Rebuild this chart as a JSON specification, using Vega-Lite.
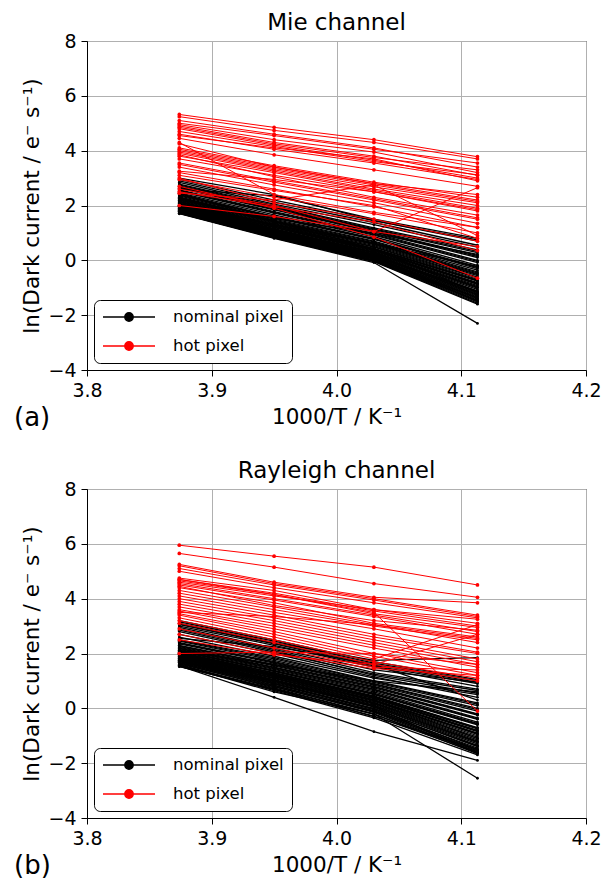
{
"$schema": "https://vega.github.io/schema/vega-lite/v6.json",
"padding": {"left": 13, "top": 11, "right": 10, "bottom": 0},
"spacing": 27,
"data": {"values": [
{"c":"M","g":"n","i":1,"x":3.874,"y":3.00},{"c":"M","g":"n","i":1,"x":3.95,"y":2.40},{"c":"M","g":"n","i":1,"x":4.03,"y":1.45},{"c":"M","g":"n","i":1,"x":4.113,"y":0.75},
{"c":"M","g":"n","i":2,"x":3.874,"y":2.95},{"c":"M","g":"n","i":2,"x":3.95,"y":2.20},{"c":"M","g":"n","i":2,"x":4.03,"y":1.45},{"c":"M","g":"n","i":2,"x":4.113,"y":0.70},
{"c":"M","g":"n","i":3,"x":3.874,"y":2.90},{"c":"M","g":"n","i":3,"x":3.95,"y":2.12},{"c":"M","g":"n","i":3,"x":4.03,"y":1.38},{"c":"M","g":"n","i":3,"x":4.113,"y":0.55},
{"c":"M","g":"n","i":4,"x":3.874,"y":2.84},{"c":"M","g":"n","i":4,"x":3.95,"y":2.05},{"c":"M","g":"n","i":4,"x":4.03,"y":1.30},{"c":"M","g":"n","i":4,"x":4.113,"y":0.48},
{"c":"M","g":"n","i":5,"x":3.874,"y":2.78},{"c":"M","g":"n","i":5,"x":3.95,"y":2.00},{"c":"M","g":"n","i":5,"x":4.03,"y":1.18},{"c":"M","g":"n","i":5,"x":4.113,"y":0.38},
{"c":"M","g":"n","i":6,"x":3.874,"y":2.72},{"c":"M","g":"n","i":6,"x":3.95,"y":1.93},{"c":"M","g":"n","i":6,"x":4.03,"y":1.12},{"c":"M","g":"n","i":6,"x":4.113,"y":0.28},
{"c":"M","g":"n","i":7,"x":3.874,"y":2.68},{"c":"M","g":"n","i":7,"x":3.95,"y":1.90},{"c":"M","g":"n","i":7,"x":4.03,"y":1.08},{"c":"M","g":"n","i":7,"x":4.113,"y":0.18},
{"c":"M","g":"n","i":8,"x":3.874,"y":2.63},{"c":"M","g":"n","i":8,"x":3.95,"y":1.84},{"c":"M","g":"n","i":8,"x":4.03,"y":1.04},{"c":"M","g":"n","i":8,"x":4.113,"y":0.10},
{"c":"M","g":"n","i":9,"x":3.874,"y":2.60},{"c":"M","g":"n","i":9,"x":3.95,"y":2.35},{"c":"M","g":"n","i":9,"x":4.03,"y":1.50},{"c":"M","g":"n","i":9,"x":4.113,"y":0.80},
{"c":"M","g":"n","i":10,"x":3.874,"y":2.57},{"c":"M","g":"n","i":10,"x":3.95,"y":1.78},{"c":"M","g":"n","i":10,"x":4.03,"y":0.98},{"c":"M","g":"n","i":10,"x":4.113,"y":0.00},
{"c":"M","g":"n","i":11,"x":3.874,"y":2.52},{"c":"M","g":"n","i":11,"x":3.95,"y":1.72},{"c":"M","g":"n","i":11,"x":4.03,"y":0.92},{"c":"M","g":"n","i":11,"x":4.113,"y":-0.08},
{"c":"M","g":"n","i":12,"x":3.874,"y":2.46},{"c":"M","g":"n","i":12,"x":3.95,"y":1.66},{"c":"M","g":"n","i":12,"x":4.03,"y":0.86},{"c":"M","g":"n","i":12,"x":4.113,"y":-0.18},
{"c":"M","g":"n","i":13,"x":3.874,"y":2.42},{"c":"M","g":"n","i":13,"x":3.95,"y":1.60},{"c":"M","g":"n","i":13,"x":4.03,"y":0.80},{"c":"M","g":"n","i":13,"x":4.113,"y":-0.24},
{"c":"M","g":"n","i":14,"x":3.874,"y":2.38},{"c":"M","g":"n","i":14,"x":3.95,"y":1.55},{"c":"M","g":"n","i":14,"x":4.03,"y":0.76},{"c":"M","g":"n","i":14,"x":4.113,"y":-0.30},
{"c":"M","g":"n","i":15,"x":3.874,"y":2.35},{"c":"M","g":"n","i":15,"x":3.95,"y":1.50},{"c":"M","g":"n","i":15,"x":4.03,"y":0.70},{"c":"M","g":"n","i":15,"x":4.113,"y":-0.36},
{"c":"M","g":"n","i":16,"x":3.874,"y":2.31},{"c":"M","g":"n","i":16,"x":3.95,"y":1.47},{"c":"M","g":"n","i":16,"x":4.03,"y":0.67},{"c":"M","g":"n","i":16,"x":4.113,"y":-0.42},
{"c":"M","g":"n","i":17,"x":3.874,"y":2.29},{"c":"M","g":"n","i":17,"x":3.95,"y":1.44},{"c":"M","g":"n","i":17,"x":4.03,"y":0.64},{"c":"M","g":"n","i":17,"x":4.113,"y":-0.46},
{"c":"M","g":"n","i":18,"x":3.874,"y":2.26},{"c":"M","g":"n","i":18,"x":3.95,"y":1.41},{"c":"M","g":"n","i":18,"x":4.03,"y":0.60},{"c":"M","g":"n","i":18,"x":4.113,"y":-0.52},
{"c":"M","g":"n","i":19,"x":3.874,"y":2.24},{"c":"M","g":"n","i":19,"x":3.95,"y":1.39},{"c":"M","g":"n","i":19,"x":4.03,"y":0.57},{"c":"M","g":"n","i":19,"x":4.113,"y":-0.56},
{"c":"M","g":"n","i":20,"x":3.874,"y":2.21},{"c":"M","g":"n","i":20,"x":3.95,"y":1.37},{"c":"M","g":"n","i":20,"x":4.03,"y":0.54},{"c":"M","g":"n","i":20,"x":4.113,"y":-0.61},
{"c":"M","g":"n","i":21,"x":3.874,"y":2.19},{"c":"M","g":"n","i":21,"x":3.95,"y":1.34},{"c":"M","g":"n","i":21,"x":4.03,"y":0.50},{"c":"M","g":"n","i":21,"x":4.113,"y":-0.64},
{"c":"M","g":"n","i":22,"x":3.874,"y":2.16},{"c":"M","g":"n","i":22,"x":3.95,"y":1.31},{"c":"M","g":"n","i":22,"x":4.03,"y":0.48},{"c":"M","g":"n","i":22,"x":4.113,"y":-0.69},
{"c":"M","g":"n","i":23,"x":3.874,"y":2.14},{"c":"M","g":"n","i":23,"x":3.95,"y":1.29},{"c":"M","g":"n","i":23,"x":4.03,"y":0.44},{"c":"M","g":"n","i":23,"x":4.113,"y":-0.72},
{"c":"M","g":"n","i":24,"x":3.874,"y":2.11},{"c":"M","g":"n","i":24,"x":3.95,"y":1.26},{"c":"M","g":"n","i":24,"x":4.03,"y":0.41},{"c":"M","g":"n","i":24,"x":4.113,"y":-0.76},
{"c":"M","g":"n","i":25,"x":3.874,"y":2.09},{"c":"M","g":"n","i":25,"x":3.95,"y":1.24},{"c":"M","g":"n","i":25,"x":4.03,"y":0.39},{"c":"M","g":"n","i":25,"x":4.113,"y":-0.81},
{"c":"M","g":"n","i":26,"x":3.874,"y":2.07},{"c":"M","g":"n","i":26,"x":3.95,"y":1.21},{"c":"M","g":"n","i":26,"x":4.03,"y":0.37},{"c":"M","g":"n","i":26,"x":4.113,"y":-0.84},
{"c":"M","g":"n","i":27,"x":3.874,"y":2.04},{"c":"M","g":"n","i":27,"x":3.95,"y":1.19},{"c":"M","g":"n","i":27,"x":4.03,"y":0.34},{"c":"M","g":"n","i":27,"x":4.113,"y":-0.88},
{"c":"M","g":"n","i":28,"x":3.874,"y":2.02},{"c":"M","g":"n","i":28,"x":3.95,"y":1.16},{"c":"M","g":"n","i":28,"x":4.03,"y":0.31},{"c":"M","g":"n","i":28,"x":4.113,"y":-0.92},
{"c":"M","g":"n","i":29,"x":3.874,"y":2.00},{"c":"M","g":"n","i":29,"x":3.95,"y":1.14},{"c":"M","g":"n","i":29,"x":4.03,"y":0.29},{"c":"M","g":"n","i":29,"x":4.113,"y":-0.96},
{"c":"M","g":"n","i":30,"x":3.874,"y":1.97},{"c":"M","g":"n","i":30,"x":3.95,"y":1.11},{"c":"M","g":"n","i":30,"x":4.03,"y":0.26},{"c":"M","g":"n","i":30,"x":4.113,"y":-1.01},
{"c":"M","g":"n","i":31,"x":3.874,"y":1.95},{"c":"M","g":"n","i":31,"x":3.95,"y":1.09},{"c":"M","g":"n","i":31,"x":4.03,"y":0.24},{"c":"M","g":"n","i":31,"x":4.113,"y":-1.06},
{"c":"M","g":"n","i":32,"x":3.874,"y":1.92},{"c":"M","g":"n","i":32,"x":3.95,"y":1.06},{"c":"M","g":"n","i":32,"x":4.03,"y":0.21},{"c":"M","g":"n","i":32,"x":4.113,"y":-1.11},
{"c":"M","g":"n","i":33,"x":3.874,"y":1.90},{"c":"M","g":"n","i":33,"x":3.95,"y":1.04},{"c":"M","g":"n","i":33,"x":4.03,"y":0.19},{"c":"M","g":"n","i":33,"x":4.113,"y":-1.16},
{"c":"M","g":"n","i":34,"x":3.874,"y":1.87},{"c":"M","g":"n","i":34,"x":3.95,"y":1.01},{"c":"M","g":"n","i":34,"x":4.03,"y":0.16},{"c":"M","g":"n","i":34,"x":4.113,"y":-1.21},
{"c":"M","g":"n","i":35,"x":3.874,"y":1.84},{"c":"M","g":"n","i":35,"x":3.95,"y":0.98},{"c":"M","g":"n","i":35,"x":4.03,"y":0.12},{"c":"M","g":"n","i":35,"x":4.113,"y":-1.28},
{"c":"M","g":"n","i":36,"x":3.874,"y":1.81},{"c":"M","g":"n","i":36,"x":3.95,"y":0.95},{"c":"M","g":"n","i":36,"x":4.03,"y":0.09},{"c":"M","g":"n","i":36,"x":4.113,"y":-1.34},
{"c":"M","g":"n","i":37,"x":3.874,"y":1.79},{"c":"M","g":"n","i":37,"x":3.95,"y":0.92},{"c":"M","g":"n","i":37,"x":4.03,"y":0.05},{"c":"M","g":"n","i":37,"x":4.113,"y":-1.39},
{"c":"M","g":"n","i":38,"x":3.874,"y":1.76},{"c":"M","g":"n","i":38,"x":3.95,"y":0.88},{"c":"M","g":"n","i":38,"x":4.03,"y":0.02},{"c":"M","g":"n","i":38,"x":4.113,"y":-1.45},
{"c":"M","g":"n","i":39,"x":3.874,"y":1.74},{"c":"M","g":"n","i":39,"x":3.95,"y":0.85},{"c":"M","g":"n","i":39,"x":4.03,"y":-0.01},{"c":"M","g":"n","i":39,"x":4.113,"y":-1.52},
{"c":"M","g":"n","i":40,"x":3.874,"y":1.72},{"c":"M","g":"n","i":40,"x":3.95,"y":0.82},{"c":"M","g":"n","i":40,"x":4.03,"y":-0.05},{"c":"M","g":"n","i":40,"x":4.113,"y":-1.60},
{"c":"M","g":"n","i":41,"x":3.874,"y":1.70},{"c":"M","g":"n","i":41,"x":3.95,"y":0.80},{"c":"M","g":"n","i":41,"x":4.03,"y":-0.08},{"c":"M","g":"n","i":41,"x":4.113,"y":-2.30},
{"c":"M","g":"n","i":42,"x":3.874,"y":2.20},{"c":"M","g":"n","i":42,"x":3.95,"y":1.52},{"c":"M","g":"n","i":42,"x":4.03,"y":0.98},{"c":"M","g":"n","i":42,"x":4.113,"y":0.22},
{"c":"M","g":"n","i":43,"x":3.874,"y":1.96},{"c":"M","g":"n","i":43,"x":3.95,"y":1.30},{"c":"M","g":"n","i":43,"x":4.03,"y":0.62},{"c":"M","g":"n","i":43,"x":4.113,"y":-0.22},
{"c":"M","g":"n","i":44,"x":3.874,"y":2.45},{"c":"M","g":"n","i":44,"x":3.95,"y":1.42},{"c":"M","g":"n","i":44,"x":4.03,"y":0.42},{"c":"M","g":"n","i":44,"x":4.113,"y":-1.18},
{"c":"M","g":"n","i":45,"x":3.874,"y":1.71},{"c":"M","g":"n","i":45,"x":3.95,"y":0.84},{"c":"M","g":"n","i":45,"x":4.03,"y":-0.03},{"c":"M","g":"n","i":45,"x":4.113,"y":-1.56},
{"c":"M","g":"n","i":46,"x":3.874,"y":1.73},{"c":"M","g":"n","i":46,"x":3.95,"y":0.86},{"c":"M","g":"n","i":46,"x":4.03,"y":0.00},{"c":"M","g":"n","i":46,"x":4.113,"y":-1.48},
{"c":"M","g":"n","i":47,"x":3.874,"y":1.77},{"c":"M","g":"n","i":47,"x":3.95,"y":0.90},{"c":"M","g":"n","i":47,"x":4.03,"y":0.04},{"c":"M","g":"n","i":47,"x":4.113,"y":-1.42},
{"c":"M","g":"n","i":48,"x":3.874,"y":1.80},{"c":"M","g":"n","i":48,"x":3.95,"y":0.93},{"c":"M","g":"n","i":48,"x":4.03,"y":0.07},{"c":"M","g":"n","i":48,"x":4.113,"y":-1.37},
{"c":"M","g":"n","i":49,"x":3.874,"y":1.83},{"c":"M","g":"n","i":49,"x":3.95,"y":0.97},{"c":"M","g":"n","i":49,"x":4.03,"y":0.11},{"c":"M","g":"n","i":49,"x":4.113,"y":-1.31},
{"c":"M","g":"n","i":50,"x":3.874,"y":1.86},{"c":"M","g":"n","i":50,"x":3.95,"y":1.00},{"c":"M","g":"n","i":50,"x":4.03,"y":0.14},{"c":"M","g":"n","i":50,"x":4.113,"y":-1.24},
{"c":"M","g":"n","i":51,"x":3.874,"y":1.89},{"c":"M","g":"n","i":51,"x":3.95,"y":1.03},{"c":"M","g":"n","i":51,"x":4.03,"y":0.18},{"c":"M","g":"n","i":51,"x":4.113,"y":-1.18},
{"c":"M","g":"n","i":52,"x":3.874,"y":1.93},{"c":"M","g":"n","i":52,"x":3.95,"y":1.07},{"c":"M","g":"n","i":52,"x":4.03,"y":0.22},{"c":"M","g":"n","i":52,"x":4.113,"y":-1.13},
{"c":"M","g":"n","i":53,"x":3.874,"y":1.99},{"c":"M","g":"n","i":53,"x":3.95,"y":1.13},{"c":"M","g":"n","i":53,"x":4.03,"y":0.28},{"c":"M","g":"n","i":53,"x":4.113,"y":-0.99},
{"c":"M","g":"n","i":54,"x":3.874,"y":2.06},{"c":"M","g":"n","i":54,"x":3.95,"y":1.20},{"c":"M","g":"n","i":54,"x":4.03,"y":0.36},{"c":"M","g":"n","i":54,"x":4.113,"y":-0.86},
{"c":"M","g":"n","i":55,"x":3.874,"y":2.13},{"c":"M","g":"n","i":55,"x":3.95,"y":1.28},{"c":"M","g":"n","i":55,"x":4.03,"y":0.43},{"c":"M","g":"n","i":55,"x":4.113,"y":-0.74},
{"c":"M","g":"n","i":56,"x":3.874,"y":2.28},{"c":"M","g":"n","i":56,"x":3.95,"y":1.43},{"c":"M","g":"n","i":56,"x":4.03,"y":0.62},{"c":"M","g":"n","i":56,"x":4.113,"y":-0.49},
{"c":"M","g":"n","i":57,"x":3.874,"y":2.40},{"c":"M","g":"n","i":57,"x":3.95,"y":1.58},{"c":"M","g":"n","i":57,"x":4.03,"y":0.78},{"c":"M","g":"n","i":57,"x":4.113,"y":-0.27},
{"c":"M","g":"n","i":58,"x":3.874,"y":2.55},{"c":"M","g":"n","i":58,"x":3.95,"y":1.75},{"c":"M","g":"n","i":58,"x":4.03,"y":0.95},{"c":"M","g":"n","i":58,"x":4.113,"y":-0.04},
{"c":"M","g":"n","i":59,"x":3.874,"y":2.66},{"c":"M","g":"n","i":59,"x":3.95,"y":1.87},{"c":"M","g":"n","i":59,"x":4.03,"y":1.06},{"c":"M","g":"n","i":59,"x":4.113,"y":0.14},
{"c":"M","g":"n","i":60,"x":3.874,"y":2.75},{"c":"M","g":"n","i":60,"x":3.95,"y":1.96},{"c":"M","g":"n","i":60,"x":4.03,"y":1.15},{"c":"M","g":"n","i":60,"x":4.113,"y":0.33},
{"c":"M","g":"n","i":61,"x":3.874,"y":1.78},{"c":"M","g":"n","i":61,"x":3.95,"y":0.95},{"c":"M","g":"n","i":61,"x":4.03,"y":0.12},{"c":"M","g":"n","i":61,"x":4.113,"y":-1.50},
{"c":"M","g":"n","i":62,"x":3.874,"y":2.01},{"c":"M","g":"n","i":62,"x":3.95,"y":1.10},{"c":"M","g":"n","i":62,"x":4.03,"y":0.20},{"c":"M","g":"n","i":62,"x":4.113,"y":-1.25},
{"c":"M","g":"h","i":101,"x":3.874,"y":5.32},{"c":"M","g":"h","i":101,"x":3.95,"y":4.85},{"c":"M","g":"h","i":101,"x":4.03,"y":4.40},{"c":"M","g":"h","i":101,"x":4.113,"y":3.78},
{"c":"M","g":"h","i":102,"x":3.874,"y":5.24},{"c":"M","g":"h","i":102,"x":3.95,"y":4.74},{"c":"M","g":"h","i":102,"x":4.03,"y":4.30},{"c":"M","g":"h","i":102,"x":4.113,"y":3.70},
{"c":"M","g":"h","i":103,"x":3.874,"y":5.10},{"c":"M","g":"h","i":103,"x":3.95,"y":4.60},{"c":"M","g":"h","i":103,"x":4.03,"y":4.10},{"c":"M","g":"h","i":103,"x":4.113,"y":3.40},
{"c":"M","g":"h","i":104,"x":3.874,"y":5.00},{"c":"M","g":"h","i":104,"x":3.95,"y":4.55},{"c":"M","g":"h","i":104,"x":4.03,"y":4.05},{"c":"M","g":"h","i":104,"x":4.113,"y":3.55},
{"c":"M","g":"h","i":105,"x":3.874,"y":4.95},{"c":"M","g":"h","i":105,"x":3.95,"y":4.40},{"c":"M","g":"h","i":105,"x":4.03,"y":3.95},{"c":"M","g":"h","i":105,"x":4.113,"y":3.20},
{"c":"M","g":"h","i":106,"x":3.874,"y":4.90},{"c":"M","g":"h","i":106,"x":3.95,"y":4.30},{"c":"M","g":"h","i":106,"x":4.03,"y":3.80},{"c":"M","g":"h","i":106,"x":4.113,"y":3.10},
{"c":"M","g":"h","i":107,"x":3.874,"y":4.85},{"c":"M","g":"h","i":107,"x":3.95,"y":4.25},{"c":"M","g":"h","i":107,"x":4.03,"y":3.75},{"c":"M","g":"h","i":107,"x":4.113,"y":3.30},
{"c":"M","g":"h","i":108,"x":3.874,"y":4.80},{"c":"M","g":"h","i":108,"x":3.95,"y":4.20},{"c":"M","g":"h","i":108,"x":4.03,"y":3.65},{"c":"M","g":"h","i":108,"x":4.113,"y":3.00},
{"c":"M","g":"h","i":109,"x":3.874,"y":4.70},{"c":"M","g":"h","i":109,"x":3.95,"y":4.15},{"c":"M","g":"h","i":109,"x":4.03,"y":3.60},{"c":"M","g":"h","i":109,"x":4.113,"y":3.12},
{"c":"M","g":"h","i":110,"x":3.874,"y":4.55},{"c":"M","g":"h","i":110,"x":3.95,"y":4.10},{"c":"M","g":"h","i":110,"x":4.03,"y":3.70},{"c":"M","g":"h","i":110,"x":4.113,"y":2.90},
{"c":"M","g":"h","i":111,"x":3.874,"y":4.45},{"c":"M","g":"h","i":111,"x":3.95,"y":3.85},{"c":"M","g":"h","i":111,"x":4.03,"y":3.30},{"c":"M","g":"h","i":111,"x":4.113,"y":2.70},
{"c":"M","g":"h","i":112,"x":3.874,"y":4.30},{"c":"M","g":"h","i":112,"x":3.95,"y":2.40},{"c":"M","g":"h","i":112,"x":4.03,"y":1.75},{"c":"M","g":"h","i":112,"x":4.113,"y":1.20},
{"c":"M","g":"h","i":113,"x":3.874,"y":4.10},{"c":"M","g":"h","i":113,"x":3.95,"y":3.45},{"c":"M","g":"h","i":113,"x":4.03,"y":2.85},{"c":"M","g":"h","i":113,"x":4.113,"y":2.30},
{"c":"M","g":"h","i":114,"x":3.874,"y":4.05},{"c":"M","g":"h","i":114,"x":3.95,"y":3.40},{"c":"M","g":"h","i":114,"x":4.03,"y":2.80},{"c":"M","g":"h","i":114,"x":4.113,"y":2.20},
{"c":"M","g":"h","i":115,"x":3.874,"y":4.00},{"c":"M","g":"h","i":115,"x":3.95,"y":3.35},{"c":"M","g":"h","i":115,"x":4.03,"y":2.75},{"c":"M","g":"h","i":115,"x":4.113,"y":2.15},
{"c":"M","g":"h","i":116,"x":3.874,"y":3.95},{"c":"M","g":"h","i":116,"x":3.95,"y":3.30},{"c":"M","g":"h","i":116,"x":4.03,"y":2.68},{"c":"M","g":"h","i":116,"x":4.113,"y":2.10},
{"c":"M","g":"h","i":117,"x":3.874,"y":3.90},{"c":"M","g":"h","i":117,"x":3.95,"y":3.25},{"c":"M","g":"h","i":117,"x":4.03,"y":2.60},{"c":"M","g":"h","i":117,"x":4.113,"y":2.00},
{"c":"M","g":"h","i":118,"x":3.874,"y":3.80},{"c":"M","g":"h","i":118,"x":3.95,"y":3.20},{"c":"M","g":"h","i":118,"x":4.03,"y":2.55},{"c":"M","g":"h","i":118,"x":4.113,"y":1.90},
{"c":"M","g":"h","i":119,"x":3.874,"y":3.70},{"c":"M","g":"h","i":119,"x":3.95,"y":3.10},{"c":"M","g":"h","i":119,"x":4.03,"y":2.50},{"c":"M","g":"h","i":119,"x":4.113,"y":1.80},
{"c":"M","g":"h","i":120,"x":3.874,"y":3.55},{"c":"M","g":"h","i":120,"x":3.95,"y":2.90},{"c":"M","g":"h","i":120,"x":4.03,"y":2.25},{"c":"M","g":"h","i":120,"x":4.113,"y":1.55},
{"c":"M","g":"h","i":121,"x":3.874,"y":3.50},{"c":"M","g":"h","i":121,"x":3.95,"y":2.85},{"c":"M","g":"h","i":121,"x":4.03,"y":2.20},{"c":"M","g":"h","i":121,"x":4.113,"y":1.50},
{"c":"M","g":"h","i":122,"x":3.874,"y":3.40},{"c":"M","g":"h","i":122,"x":3.95,"y":2.75},{"c":"M","g":"h","i":122,"x":4.03,"y":2.10},{"c":"M","g":"h","i":122,"x":4.113,"y":1.35},
{"c":"M","g":"h","i":123,"x":3.874,"y":3.20},{"c":"M","g":"h","i":123,"x":3.95,"y":2.60},{"c":"M","g":"h","i":123,"x":4.03,"y":1.95},{"c":"M","g":"h","i":123,"x":4.113,"y":1.20},
{"c":"M","g":"h","i":124,"x":3.874,"y":3.10},{"c":"M","g":"h","i":124,"x":3.95,"y":2.55},{"c":"M","g":"h","i":124,"x":4.03,"y":2.00},{"c":"M","g":"h","i":124,"x":4.113,"y":0.80},
{"c":"M","g":"h","i":125,"x":3.874,"y":3.00},{"c":"M","g":"h","i":125,"x":3.95,"y":2.10},{"c":"M","g":"h","i":125,"x":4.03,"y":1.50},{"c":"M","g":"h","i":125,"x":4.113,"y":0.70},
{"c":"M","g":"h","i":126,"x":3.874,"y":2.95},{"c":"M","g":"h","i":126,"x":3.95,"y":2.30},{"c":"M","g":"h","i":126,"x":4.03,"y":1.70},{"c":"M","g":"h","i":126,"x":4.113,"y":1.00},
{"c":"M","g":"h","i":127,"x":3.874,"y":2.60},{"c":"M","g":"h","i":127,"x":3.95,"y":2.00},{"c":"M","g":"h","i":127,"x":4.03,"y":1.05},{"c":"M","g":"h","i":127,"x":4.113,"y":2.65},
{"c":"M","g":"h","i":128,"x":3.874,"y":2.50},{"c":"M","g":"h","i":128,"x":3.95,"y":1.95},{"c":"M","g":"h","i":128,"x":4.03,"y":1.40},{"c":"M","g":"h","i":128,"x":4.113,"y":0.35},
{"c":"M","g":"h","i":129,"x":3.874,"y":2.45},{"c":"M","g":"h","i":129,"x":3.95,"y":2.20},{"c":"M","g":"h","i":129,"x":4.03,"y":2.75},{"c":"M","g":"h","i":129,"x":4.113,"y":0.90},
{"c":"M","g":"h","i":130,"x":3.874,"y":2.00},{"c":"M","g":"h","i":130,"x":3.95,"y":1.60},{"c":"M","g":"h","i":130,"x":4.03,"y":1.05},{"c":"M","g":"h","i":130,"x":4.113,"y":0.50},
{"c":"M","g":"h","i":131,"x":3.874,"y":4.25},{"c":"M","g":"h","i":131,"x":3.95,"y":3.40},{"c":"M","g":"h","i":131,"x":4.03,"y":2.80},{"c":"M","g":"h","i":131,"x":4.113,"y":2.40},
{"c":"M","g":"h","i":132,"x":3.874,"y":3.85},{"c":"M","g":"h","i":132,"x":3.95,"y":3.05},{"c":"M","g":"h","i":132,"x":4.03,"y":2.30},{"c":"M","g":"h","i":132,"x":4.113,"y":1.65},
{"c":"M","g":"h","i":133,"x":3.874,"y":4.60},{"c":"M","g":"h","i":133,"x":3.95,"y":4.05},{"c":"M","g":"h","i":133,"x":4.03,"y":3.55},{"c":"M","g":"h","i":133,"x":4.113,"y":2.95},
{"c":"M","g":"h","i":134,"x":3.874,"y":3.25},{"c":"M","g":"h","i":134,"x":3.95,"y":2.95},{"c":"M","g":"h","i":134,"x":4.03,"y":2.50},{"c":"M","g":"h","i":134,"x":4.113,"y":1.85},
{"c":"M","g":"h","i":135,"x":3.874,"y":2.70},{"c":"M","g":"h","i":135,"x":3.95,"y":1.90},{"c":"M","g":"h","i":135,"x":4.03,"y":0.85},{"c":"M","g":"h","i":135,"x":4.113,"y":-0.65},
{"c":"R","g":"n","i":201,"x":3.874,"y":3.20},{"c":"R","g":"n","i":201,"x":3.95,"y":2.50},{"c":"R","g":"n","i":201,"x":4.03,"y":1.70},{"c":"R","g":"n","i":201,"x":4.113,"y":1.05},
{"c":"R","g":"n","i":202,"x":3.874,"y":3.15},{"c":"R","g":"n","i":202,"x":3.95,"y":2.45},{"c":"R","g":"n","i":202,"x":4.03,"y":1.65},{"c":"R","g":"n","i":202,"x":4.113,"y":1.00},
{"c":"R","g":"n","i":203,"x":3.874,"y":3.10},{"c":"R","g":"n","i":203,"x":3.95,"y":2.40},{"c":"R","g":"n","i":203,"x":4.03,"y":1.75},{"c":"R","g":"n","i":203,"x":4.113,"y":1.85},
{"c":"R","g":"n","i":204,"x":3.874,"y":3.05},{"c":"R","g":"n","i":204,"x":3.95,"y":2.35},{"c":"R","g":"n","i":204,"x":4.03,"y":1.55},{"c":"R","g":"n","i":204,"x":4.113,"y":0.90},
{"c":"R","g":"n","i":205,"x":3.874,"y":3.00},{"c":"R","g":"n","i":205,"x":3.95,"y":2.30},{"c":"R","g":"n","i":205,"x":4.03,"y":1.50},{"c":"R","g":"n","i":205,"x":4.113,"y":0.80},
{"c":"R","g":"n","i":206,"x":3.874,"y":2.95},{"c":"R","g":"n","i":206,"x":3.95,"y":2.20},{"c":"R","g":"n","i":206,"x":4.03,"y":1.40},{"c":"R","g":"n","i":206,"x":4.113,"y":0.95},
{"c":"R","g":"n","i":207,"x":3.874,"y":2.90},{"c":"R","g":"n","i":207,"x":3.95,"y":2.15},{"c":"R","g":"n","i":207,"x":4.03,"y":1.30},{"c":"R","g":"n","i":207,"x":4.113,"y":0.70},
{"c":"R","g":"n","i":208,"x":3.874,"y":2.85},{"c":"R","g":"n","i":208,"x":3.95,"y":2.10},{"c":"R","g":"n","i":208,"x":4.03,"y":1.20},{"c":"R","g":"n","i":208,"x":4.113,"y":0.55},
{"c":"R","g":"n","i":209,"x":3.874,"y":2.70},{"c":"R","g":"n","i":209,"x":3.95,"y":2.00},{"c":"R","g":"n","i":209,"x":4.03,"y":1.15},{"c":"R","g":"n","i":209,"x":4.113,"y":0.40},
{"c":"R","g":"n","i":210,"x":3.874,"y":2.60},{"c":"R","g":"n","i":210,"x":3.95,"y":1.90},{"c":"R","g":"n","i":210,"x":4.03,"y":1.10},{"c":"R","g":"n","i":210,"x":4.113,"y":0.50},
{"c":"R","g":"n","i":211,"x":3.874,"y":2.50},{"c":"R","g":"n","i":211,"x":3.95,"y":1.85},{"c":"R","g":"n","i":211,"x":4.03,"y":1.00},{"c":"R","g":"n","i":211,"x":4.113,"y":0.20},
{"c":"R","g":"n","i":212,"x":3.874,"y":2.45},{"c":"R","g":"n","i":212,"x":3.95,"y":1.75},{"c":"R","g":"n","i":212,"x":4.03,"y":0.95},{"c":"R","g":"n","i":212,"x":4.113,"y":0.10},
{"c":"R","g":"n","i":213,"x":3.874,"y":2.40},{"c":"R","g":"n","i":213,"x":3.95,"y":1.70},{"c":"R","g":"n","i":213,"x":4.03,"y":0.90},{"c":"R","g":"n","i":213,"x":4.113,"y":0.00},
{"c":"R","g":"n","i":214,"x":3.874,"y":2.35},{"c":"R","g":"n","i":214,"x":3.95,"y":1.65},{"c":"R","g":"n","i":214,"x":4.03,"y":0.85},{"c":"R","g":"n","i":214,"x":4.113,"y":-0.10},
{"c":"R","g":"n","i":215,"x":3.874,"y":2.30},{"c":"R","g":"n","i":215,"x":3.95,"y":1.60},{"c":"R","g":"n","i":215,"x":4.03,"y":0.80},{"c":"R","g":"n","i":215,"x":4.113,"y":-0.20},
{"c":"R","g":"n","i":216,"x":3.874,"y":2.25},{"c":"R","g":"n","i":216,"x":3.95,"y":1.55},{"c":"R","g":"n","i":216,"x":4.03,"y":0.75},{"c":"R","g":"n","i":216,"x":4.113,"y":-0.25},
{"c":"R","g":"n","i":217,"x":3.874,"y":2.22},{"c":"R","g":"n","i":217,"x":3.95,"y":1.50},{"c":"R","g":"n","i":217,"x":4.03,"y":0.70},{"c":"R","g":"n","i":217,"x":4.113,"y":-0.35},
{"c":"R","g":"n","i":218,"x":3.874,"y":2.18},{"c":"R","g":"n","i":218,"x":3.95,"y":1.45},{"c":"R","g":"n","i":218,"x":4.03,"y":0.65},{"c":"R","g":"n","i":218,"x":4.113,"y":-0.40},
{"c":"R","g":"n","i":219,"x":3.874,"y":2.15},{"c":"R","g":"n","i":219,"x":3.95,"y":1.42},{"c":"R","g":"n","i":219,"x":4.03,"y":0.60},{"c":"R","g":"n","i":219,"x":4.113,"y":-0.50},
{"c":"R","g":"n","i":220,"x":3.874,"y":2.12},{"c":"R","g":"n","i":220,"x":3.95,"y":1.38},{"c":"R","g":"n","i":220,"x":4.03,"y":0.55},{"c":"R","g":"n","i":220,"x":4.113,"y":-0.55},
{"c":"R","g":"n","i":221,"x":3.874,"y":2.08},{"c":"R","g":"n","i":221,"x":3.95,"y":1.35},{"c":"R","g":"n","i":221,"x":4.03,"y":0.50},{"c":"R","g":"n","i":221,"x":4.113,"y":-0.60},
{"c":"R","g":"n","i":222,"x":3.874,"y":2.05},{"c":"R","g":"n","i":222,"x":3.95,"y":1.30},{"c":"R","g":"n","i":222,"x":4.03,"y":0.45},{"c":"R","g":"n","i":222,"x":4.113,"y":-0.70},
{"c":"R","g":"n","i":223,"x":3.874,"y":2.02},{"c":"R","g":"n","i":223,"x":3.95,"y":1.28},{"c":"R","g":"n","i":223,"x":4.03,"y":0.42},{"c":"R","g":"n","i":223,"x":4.113,"y":-0.75},
{"c":"R","g":"n","i":224,"x":3.874,"y":2.00},{"c":"R","g":"n","i":224,"x":3.95,"y":1.25},{"c":"R","g":"n","i":224,"x":4.03,"y":0.40},{"c":"R","g":"n","i":224,"x":4.113,"y":-0.80},
{"c":"R","g":"n","i":225,"x":3.874,"y":1.97},{"c":"R","g":"n","i":225,"x":3.95,"y":1.22},{"c":"R","g":"n","i":225,"x":4.03,"y":0.35},{"c":"R","g":"n","i":225,"x":4.113,"y":-0.85},
{"c":"R","g":"n","i":226,"x":3.874,"y":1.95},{"c":"R","g":"n","i":226,"x":3.95,"y":1.18},{"c":"R","g":"n","i":226,"x":4.03,"y":0.32},{"c":"R","g":"n","i":226,"x":4.113,"y":-0.90},
{"c":"R","g":"n","i":227,"x":3.874,"y":1.92},{"c":"R","g":"n","i":227,"x":3.95,"y":1.15},{"c":"R","g":"n","i":227,"x":4.03,"y":0.28},{"c":"R","g":"n","i":227,"x":4.113,"y":-0.95},
{"c":"R","g":"n","i":228,"x":3.874,"y":1.90},{"c":"R","g":"n","i":228,"x":3.95,"y":1.12},{"c":"R","g":"n","i":228,"x":4.03,"y":0.25},{"c":"R","g":"n","i":228,"x":4.113,"y":-1.00},
{"c":"R","g":"n","i":229,"x":3.874,"y":1.87},{"c":"R","g":"n","i":229,"x":3.95,"y":1.08},{"c":"R","g":"n","i":229,"x":4.03,"y":0.20},{"c":"R","g":"n","i":229,"x":4.113,"y":-1.10},
{"c":"R","g":"n","i":230,"x":3.874,"y":1.85},{"c":"R","g":"n","i":230,"x":3.95,"y":1.05},{"c":"R","g":"n","i":230,"x":4.03,"y":0.18},{"c":"R","g":"n","i":230,"x":4.113,"y":-1.15},
{"c":"R","g":"n","i":231,"x":3.874,"y":1.82},{"c":"R","g":"n","i":231,"x":3.95,"y":1.02},{"c":"R","g":"n","i":231,"x":4.03,"y":0.15},{"c":"R","g":"n","i":231,"x":4.113,"y":-1.20},
{"c":"R","g":"n","i":232,"x":3.874,"y":1.80},{"c":"R","g":"n","i":232,"x":3.95,"y":1.00},{"c":"R","g":"n","i":232,"x":4.03,"y":0.10},{"c":"R","g":"n","i":232,"x":4.113,"y":-1.25},
{"c":"R","g":"n","i":233,"x":3.874,"y":1.77},{"c":"R","g":"n","i":233,"x":3.95,"y":0.95},{"c":"R","g":"n","i":233,"x":4.03,"y":0.05},{"c":"R","g":"n","i":233,"x":4.113,"y":-1.35},
{"c":"R","g":"n","i":234,"x":3.874,"y":1.75},{"c":"R","g":"n","i":234,"x":3.95,"y":0.92},{"c":"R","g":"n","i":234,"x":4.03,"y":0.00},{"c":"R","g":"n","i":234,"x":4.113,"y":-1.40},
{"c":"R","g":"n","i":235,"x":3.874,"y":1.72},{"c":"R","g":"n","i":235,"x":3.95,"y":0.88},{"c":"R","g":"n","i":235,"x":4.03,"y":-0.05},{"c":"R","g":"n","i":235,"x":4.113,"y":-1.50},
{"c":"R","g":"n","i":236,"x":3.874,"y":1.70},{"c":"R","g":"n","i":236,"x":3.95,"y":0.85},{"c":"R","g":"n","i":236,"x":4.03,"y":-0.10},{"c":"R","g":"n","i":236,"x":4.113,"y":-1.55},
{"c":"R","g":"n","i":237,"x":3.874,"y":1.67},{"c":"R","g":"n","i":237,"x":3.95,"y":0.80},{"c":"R","g":"n","i":237,"x":4.03,"y":-0.15},{"c":"R","g":"n","i":237,"x":4.113,"y":-1.60},
{"c":"R","g":"n","i":238,"x":3.874,"y":1.65},{"c":"R","g":"n","i":238,"x":3.95,"y":0.75},{"c":"R","g":"n","i":238,"x":4.03,"y":-0.20},{"c":"R","g":"n","i":238,"x":4.113,"y":-1.65},
{"c":"R","g":"n","i":239,"x":3.874,"y":1.60},{"c":"R","g":"n","i":239,"x":3.95,"y":0.65},{"c":"R","g":"n","i":239,"x":4.03,"y":-0.35},{"c":"R","g":"n","i":239,"x":4.113,"y":-1.70},
{"c":"R","g":"n","i":240,"x":3.874,"y":1.58},{"c":"R","g":"n","i":240,"x":3.95,"y":0.60},{"c":"R","g":"n","i":240,"x":4.03,"y":-0.20},{"c":"R","g":"n","i":240,"x":4.113,"y":-2.55},
{"c":"R","g":"n","i":241,"x":3.874,"y":1.55},{"c":"R","g":"n","i":241,"x":3.95,"y":0.40},{"c":"R","g":"n","i":241,"x":4.03,"y":-0.85},{"c":"R","g":"n","i":241,"x":4.113,"y":-1.90},
{"c":"R","g":"n","i":242,"x":3.874,"y":1.52},{"c":"R","g":"n","i":242,"x":3.95,"y":0.70},{"c":"R","g":"n","i":242,"x":4.03,"y":-0.30},{"c":"R","g":"n","i":242,"x":4.113,"y":-1.50},
{"c":"R","g":"n","i":243,"x":3.874,"y":2.55},{"c":"R","g":"n","i":243,"x":3.95,"y":2.25},{"c":"R","g":"n","i":243,"x":4.03,"y":1.60},{"c":"R","g":"n","i":243,"x":4.113,"y":0.30},
{"c":"R","g":"n","i":244,"x":3.874,"y":2.10},{"c":"R","g":"n","i":244,"x":3.95,"y":1.60},{"c":"R","g":"n","i":244,"x":4.03,"y":1.00},{"c":"R","g":"n","i":244,"x":4.113,"y":0.60},
{"c":"R","g":"n","i":245,"x":3.874,"y":1.53},{"c":"R","g":"n","i":245,"x":3.95,"y":0.68},{"c":"R","g":"n","i":245,"x":4.03,"y":-0.28},{"c":"R","g":"n","i":245,"x":4.113,"y":-1.62},
{"c":"R","g":"n","i":246,"x":3.874,"y":1.57},{"c":"R","g":"n","i":246,"x":3.95,"y":0.72},{"c":"R","g":"n","i":246,"x":4.03,"y":-0.22},{"c":"R","g":"n","i":246,"x":4.113,"y":-1.58},
{"c":"R","g":"n","i":247,"x":3.874,"y":1.62},{"c":"R","g":"n","i":247,"x":3.95,"y":0.78},{"c":"R","g":"n","i":247,"x":4.03,"y":-0.12},{"c":"R","g":"n","i":247,"x":4.113,"y":-1.52},
{"c":"R","g":"n","i":248,"x":3.874,"y":1.68},{"c":"R","g":"n","i":248,"x":3.95,"y":0.83},{"c":"R","g":"n","i":248,"x":4.03,"y":-0.08},{"c":"R","g":"n","i":248,"x":4.113,"y":-1.45},
{"c":"R","g":"n","i":249,"x":3.874,"y":1.73},{"c":"R","g":"n","i":249,"x":3.95,"y":0.90},{"c":"R","g":"n","i":249,"x":4.03,"y":-0.02},{"c":"R","g":"n","i":249,"x":4.113,"y":-1.38},
{"c":"R","g":"n","i":250,"x":3.874,"y":1.78},{"c":"R","g":"n","i":250,"x":3.95,"y":0.97},{"c":"R","g":"n","i":250,"x":4.03,"y":0.07},{"c":"R","g":"n","i":250,"x":4.113,"y":-1.30},
{"c":"R","g":"n","i":251,"x":3.874,"y":1.83},{"c":"R","g":"n","i":251,"x":3.95,"y":1.03},{"c":"R","g":"n","i":251,"x":4.03,"y":0.12},{"c":"R","g":"n","i":251,"x":4.113,"y":-1.22},
{"c":"R","g":"n","i":252,"x":3.874,"y":1.88},{"c":"R","g":"n","i":252,"x":3.95,"y":1.10},{"c":"R","g":"n","i":252,"x":4.03,"y":0.22},{"c":"R","g":"n","i":252,"x":4.113,"y":-1.05},
{"c":"R","g":"n","i":253,"x":3.874,"y":1.93},{"c":"R","g":"n","i":253,"x":3.95,"y":1.17},{"c":"R","g":"n","i":253,"x":4.03,"y":0.30},{"c":"R","g":"n","i":253,"x":4.113,"y":-0.92},
{"c":"R","g":"n","i":254,"x":3.874,"y":1.98},{"c":"R","g":"n","i":254,"x":3.95,"y":1.23},{"c":"R","g":"n","i":254,"x":4.03,"y":0.37},{"c":"R","g":"n","i":254,"x":4.113,"y":-0.82},
{"c":"R","g":"n","i":255,"x":3.874,"y":2.03},{"c":"R","g":"n","i":255,"x":3.95,"y":1.29},{"c":"R","g":"n","i":255,"x":4.03,"y":0.43},{"c":"R","g":"n","i":255,"x":4.113,"y":-0.72},
{"c":"R","g":"n","i":256,"x":3.874,"y":2.10},{"c":"R","g":"n","i":256,"x":3.95,"y":1.36},{"c":"R","g":"n","i":256,"x":4.03,"y":0.52},{"c":"R","g":"n","i":256,"x":4.113,"y":-0.58},
{"c":"R","g":"n","i":257,"x":3.874,"y":2.20},{"c":"R","g":"n","i":257,"x":3.95,"y":1.48},{"c":"R","g":"n","i":257,"x":4.03,"y":0.68},{"c":"R","g":"n","i":257,"x":4.113,"y":-0.38},
{"c":"R","g":"n","i":258,"x":3.874,"y":2.28},{"c":"R","g":"n","i":258,"x":3.95,"y":1.58},{"c":"R","g":"n","i":258,"x":4.03,"y":0.78},{"c":"R","g":"n","i":258,"x":4.113,"y":-0.22},
{"c":"R","g":"n","i":259,"x":3.874,"y":2.38},{"c":"R","g":"n","i":259,"x":3.95,"y":1.68},{"c":"R","g":"n","i":259,"x":4.03,"y":0.88},{"c":"R","g":"n","i":259,"x":4.113,"y":-0.05},
{"c":"R","g":"n","i":260,"x":3.874,"y":2.48},{"c":"R","g":"n","i":260,"x":3.95,"y":1.80},{"c":"R","g":"n","i":260,"x":4.03,"y":0.98},{"c":"R","g":"n","i":260,"x":4.113,"y":0.15},
{"c":"R","g":"n","i":261,"x":3.874,"y":2.80},{"c":"R","g":"n","i":261,"x":3.95,"y":2.05},{"c":"R","g":"n","i":261,"x":4.03,"y":1.25},{"c":"R","g":"n","i":261,"x":4.113,"y":0.65},
{"c":"R","g":"n","i":262,"x":3.874,"y":3.08},{"c":"R","g":"n","i":262,"x":3.95,"y":2.38},{"c":"R","g":"n","i":262,"x":4.03,"y":1.60},{"c":"R","g":"n","i":262,"x":4.113,"y":0.95},
{"c":"R","g":"n","i":263,"x":3.874,"y":1.75},{"c":"R","g":"n","i":263,"x":3.95,"y":1.00},{"c":"R","g":"n","i":263,"x":4.03,"y":0.05},{"c":"R","g":"n","i":263,"x":4.113,"y":-1.65},
{"c":"R","g":"n","i":264,"x":3.874,"y":2.00},{"c":"R","g":"n","i":264,"x":3.95,"y":1.20},{"c":"R","g":"n","i":264,"x":4.03,"y":0.30},{"c":"R","g":"n","i":264,"x":4.113,"y":-1.10},
{"c":"R","g":"h","i":301,"x":3.874,"y":5.95},{"c":"R","g":"h","i":301,"x":3.95,"y":5.55},{"c":"R","g":"h","i":301,"x":4.03,"y":5.15},{"c":"R","g":"h","i":301,"x":4.113,"y":4.50},
{"c":"R","g":"h","i":302,"x":3.874,"y":5.65},{"c":"R","g":"h","i":302,"x":3.95,"y":5.15},{"c":"R","g":"h","i":302,"x":4.03,"y":4.55},{"c":"R","g":"h","i":302,"x":4.113,"y":4.05},
{"c":"R","g":"h","i":303,"x":3.874,"y":5.25},{"c":"R","g":"h","i":303,"x":3.95,"y":4.60},{"c":"R","g":"h","i":303,"x":4.03,"y":4.05},{"c":"R","g":"h","i":303,"x":4.113,"y":3.85},
{"c":"R","g":"h","i":304,"x":3.874,"y":5.20},{"c":"R","g":"h","i":304,"x":3.95,"y":4.55},{"c":"R","g":"h","i":304,"x":4.03,"y":4.00},{"c":"R","g":"h","i":304,"x":4.113,"y":3.40},
{"c":"R","g":"h","i":305,"x":3.874,"y":5.10},{"c":"R","g":"h","i":305,"x":3.95,"y":4.50},{"c":"R","g":"h","i":305,"x":4.03,"y":3.95},{"c":"R","g":"h","i":305,"x":4.113,"y":3.35},
{"c":"R","g":"h","i":306,"x":3.874,"y":5.00},{"c":"R","g":"h","i":306,"x":3.95,"y":4.40},{"c":"R","g":"h","i":306,"x":4.03,"y":3.85},{"c":"R","g":"h","i":306,"x":4.113,"y":3.30},
{"c":"R","g":"h","i":307,"x":3.874,"y":4.75},{"c":"R","g":"h","i":307,"x":3.95,"y":4.30},{"c":"R","g":"h","i":307,"x":4.03,"y":3.60},{"c":"R","g":"h","i":307,"x":4.113,"y":3.10},
{"c":"R","g":"h","i":308,"x":3.874,"y":4.70},{"c":"R","g":"h","i":308,"x":3.95,"y":4.20},{"c":"R","g":"h","i":308,"x":4.03,"y":3.55},{"c":"R","g":"h","i":308,"x":4.113,"y":3.00},
{"c":"R","g":"h","i":309,"x":3.874,"y":4.65},{"c":"R","g":"h","i":309,"x":3.95,"y":4.15},{"c":"R","g":"h","i":309,"x":4.03,"y":3.50},{"c":"R","g":"h","i":309,"x":4.113,"y":-0.10},
{"c":"R","g":"h","i":310,"x":3.874,"y":4.60},{"c":"R","g":"h","i":310,"x":3.95,"y":4.10},{"c":"R","g":"h","i":310,"x":4.03,"y":3.60},{"c":"R","g":"h","i":310,"x":4.113,"y":3.25},
{"c":"R","g":"h","i":311,"x":3.874,"y":4.55},{"c":"R","g":"h","i":311,"x":3.95,"y":4.00},{"c":"R","g":"h","i":311,"x":4.03,"y":3.40},{"c":"R","g":"h","i":311,"x":4.113,"y":2.80},
{"c":"R","g":"h","i":312,"x":3.874,"y":4.50},{"c":"R","g":"h","i":312,"x":3.95,"y":3.95},{"c":"R","g":"h","i":312,"x":4.03,"y":3.35},{"c":"R","g":"h","i":312,"x":4.113,"y":2.70},
{"c":"R","g":"h","i":313,"x":3.874,"y":4.40},{"c":"R","g":"h","i":313,"x":3.95,"y":3.85},{"c":"R","g":"h","i":313,"x":4.03,"y":3.10},{"c":"R","g":"h","i":313,"x":4.113,"y":2.60},
{"c":"R","g":"h","i":314,"x":3.874,"y":4.30},{"c":"R","g":"h","i":314,"x":3.95,"y":3.70},{"c":"R","g":"h","i":314,"x":4.03,"y":3.05},{"c":"R","g":"h","i":314,"x":4.113,"y":2.55},
{"c":"R","g":"h","i":315,"x":3.874,"y":4.20},{"c":"R","g":"h","i":315,"x":3.95,"y":3.60},{"c":"R","g":"h","i":315,"x":4.03,"y":3.00},{"c":"R","g":"h","i":315,"x":4.113,"y":2.50},
{"c":"R","g":"h","i":316,"x":3.874,"y":4.10},{"c":"R","g":"h","i":316,"x":3.95,"y":3.50},{"c":"R","g":"h","i":316,"x":4.03,"y":2.90},{"c":"R","g":"h","i":316,"x":4.113,"y":2.20},
{"c":"R","g":"h","i":317,"x":3.874,"y":4.00},{"c":"R","g":"h","i":317,"x":3.95,"y":3.40},{"c":"R","g":"h","i":317,"x":4.03,"y":2.70},{"c":"R","g":"h","i":317,"x":4.113,"y":2.05},
{"c":"R","g":"h","i":318,"x":3.874,"y":3.90},{"c":"R","g":"h","i":318,"x":3.95,"y":3.30},{"c":"R","g":"h","i":318,"x":4.03,"y":2.60},{"c":"R","g":"h","i":318,"x":4.113,"y":2.00},
{"c":"R","g":"h","i":319,"x":3.874,"y":3.80},{"c":"R","g":"h","i":319,"x":3.95,"y":3.20},{"c":"R","g":"h","i":319,"x":4.03,"y":2.50},{"c":"R","g":"h","i":319,"x":4.113,"y":1.80},
{"c":"R","g":"h","i":320,"x":3.874,"y":3.70},{"c":"R","g":"h","i":320,"x":3.95,"y":3.10},{"c":"R","g":"h","i":320,"x":4.03,"y":2.40},{"c":"R","g":"h","i":320,"x":4.113,"y":1.70},
{"c":"R","g":"h","i":321,"x":3.874,"y":3.60},{"c":"R","g":"h","i":321,"x":3.95,"y":3.00},{"c":"R","g":"h","i":321,"x":4.03,"y":2.30},{"c":"R","g":"h","i":321,"x":4.113,"y":1.60},
{"c":"R","g":"h","i":322,"x":3.874,"y":3.55},{"c":"R","g":"h","i":322,"x":3.95,"y":2.90},{"c":"R","g":"h","i":322,"x":4.03,"y":2.20},{"c":"R","g":"h","i":322,"x":4.113,"y":1.50},
{"c":"R","g":"h","i":323,"x":3.874,"y":3.45},{"c":"R","g":"h","i":323,"x":3.95,"y":2.80},{"c":"R","g":"h","i":323,"x":4.03,"y":2.00},{"c":"R","g":"h","i":323,"x":4.113,"y":1.30},
{"c":"R","g":"h","i":324,"x":3.874,"y":3.40},{"c":"R","g":"h","i":324,"x":3.95,"y":2.70},{"c":"R","g":"h","i":324,"x":4.03,"y":1.90},{"c":"R","g":"h","i":324,"x":4.113,"y":1.20},
{"c":"R","g":"h","i":325,"x":3.874,"y":3.30},{"c":"R","g":"h","i":325,"x":3.95,"y":2.60},{"c":"R","g":"h","i":325,"x":4.03,"y":1.80},{"c":"R","g":"h","i":325,"x":4.113,"y":3.05},
{"c":"R","g":"h","i":326,"x":3.874,"y":3.20},{"c":"R","g":"h","i":326,"x":3.95,"y":2.50},{"c":"R","g":"h","i":326,"x":4.03,"y":1.70},{"c":"R","g":"h","i":326,"x":4.113,"y":1.10},
{"c":"R","g":"h","i":327,"x":3.874,"y":3.10},{"c":"R","g":"h","i":327,"x":3.95,"y":2.40},{"c":"R","g":"h","i":327,"x":4.03,"y":1.60},{"c":"R","g":"h","i":327,"x":4.113,"y":2.70},
{"c":"R","g":"h","i":328,"x":3.874,"y":2.90},{"c":"R","g":"h","i":328,"x":3.95,"y":2.20},{"c":"R","g":"h","i":328,"x":4.03,"y":1.50},{"c":"R","g":"h","i":328,"x":4.113,"y":1.40},
{"c":"R","g":"h","i":329,"x":3.874,"y":2.70},{"c":"R","g":"h","i":329,"x":3.95,"y":2.00},{"c":"R","g":"h","i":329,"x":4.03,"y":1.45},{"c":"R","g":"h","i":329,"x":4.113,"y":1.20},
{"c":"R","g":"h","i":330,"x":3.874,"y":2.50},{"c":"R","g":"h","i":330,"x":3.95,"y":1.95},{"c":"R","g":"h","i":330,"x":4.03,"y":1.60},{"c":"R","g":"h","i":330,"x":4.113,"y":1.00},
{"c":"R","g":"h","i":331,"x":3.874,"y":2.00},{"c":"R","g":"h","i":331,"x":3.95,"y":2.05},{"c":"R","g":"h","i":331,"x":4.03,"y":2.00},{"c":"R","g":"h","i":331,"x":4.113,"y":1.60},
{"c":"R","g":"h","i":332,"x":3.874,"y":4.70},{"c":"R","g":"h","i":332,"x":3.95,"y":4.15},{"c":"R","g":"h","i":332,"x":4.03,"y":3.45},{"c":"R","g":"h","i":332,"x":4.113,"y":2.95},
{"c":"R","g":"h","i":333,"x":3.874,"y":3.50},{"c":"R","g":"h","i":333,"x":3.95,"y":3.35},{"c":"R","g":"h","i":333,"x":4.03,"y":3.05},{"c":"R","g":"h","i":333,"x":4.113,"y":2.40},
{"c":"R","g":"h","i":334,"x":3.874,"y":4.45},{"c":"R","g":"h","i":334,"x":3.95,"y":3.75},{"c":"R","g":"h","i":334,"x":4.03,"y":3.20},{"c":"R","g":"h","i":334,"x":4.113,"y":2.85}
]},
"vconcat": [
 {
  "width": 499, "height": 329,
  "title": {"text": "Mie channel"},
  "layer": [
   {"transform": [{"filter": "datum.c == 'M' && datum.g == 'n'"}],
    "mark": {"type": "line", "strokeWidth": 1.3, "point": {"filled": true, "size": 8}},
    "encoding": {
     "x": {"field": "x", "type": "quantitative", "scale": {"domain": [3.8, 4.2]}, "axis": {"values": [3.8, 3.9, 4.0, 4.1, 4.2], "format": ".1f", "title": "1000/T / K⁻¹"}},
     "y": {"field": "y", "type": "quantitative", "scale": {"domain": [-4, 8]}, "axis": {"values": [-4, -2, 0, 2, 4, 6, 8], "title": "ln(Dark current / e⁻ s⁻¹)"}},
     "color": {"field": "g", "type": "nominal", "scale": {"domain": ["n", "h"], "range": ["black", "red"]},
       "legend": {"labelExpr": "datum.label == 'n' ? 'nominal pixel' : 'hot pixel'"}},
     "detail": {"field": "i", "type": "nominal"}
    }},
   {"transform": [{"filter": "datum.c == 'M' && datum.g == 'h'"}],
    "mark": {"type": "line", "strokeWidth": 1, "point": {"filled": true, "size": 14}},
    "encoding": {
     "x": {"field": "x", "type": "quantitative"},
     "y": {"field": "y", "type": "quantitative"},
     "color": {"field": "g", "type": "nominal"},
     "detail": {"field": "i", "type": "nominal"}
    }},
   {"data": {"values": [{"t": "(a)"}]},
    "mark": {"type": "text", "align": "left", "baseline": "middle", "dx": -73, "dy": 48, "fontSize": 26, "font": "DejaVu Sans", "color": "black"},
    "encoding": {"x": {"datum": 3.8, "type": "quantitative"}, "y": {"datum": -4, "type": "quantitative"}, "text": {"field": "t"}}}
  ]
 },
 {
  "width": 499, "height": 329,
  "title": {"text": "Rayleigh channel"},
  "layer": [
   {"transform": [{"filter": "datum.c == 'R' && datum.g == 'n'"}],
    "mark": {"type": "line", "strokeWidth": 1.3, "point": {"filled": true, "size": 8}},
    "encoding": {
     "x": {"field": "x", "type": "quantitative", "scale": {"domain": [3.8, 4.2]}, "axis": {"values": [3.8, 3.9, 4.0, 4.1, 4.2], "format": ".1f", "title": "1000/T / K⁻¹"}},
     "y": {"field": "y", "type": "quantitative", "scale": {"domain": [-4, 8]}, "axis": {"values": [-4, -2, 0, 2, 4, 6, 8], "title": "ln(Dark current / e⁻ s⁻¹)"}},
     "color": {"field": "g", "type": "nominal", "scale": {"domain": ["n", "h"], "range": ["black", "red"]},
       "legend": {"labelExpr": "datum.label == 'n' ? 'nominal pixel' : 'hot pixel'"}},
     "detail": {"field": "i", "type": "nominal"}
    }},
   {"transform": [{"filter": "datum.c == 'R' && datum.g == 'h'"}],
    "mark": {"type": "line", "strokeWidth": 1, "point": {"filled": true, "size": 14}},
    "encoding": {
     "x": {"field": "x", "type": "quantitative"},
     "y": {"field": "y", "type": "quantitative"},
     "color": {"field": "g", "type": "nominal"},
     "detail": {"field": "i", "type": "nominal"}
    }},
   {"data": {"values": [{"t": "(b)"}]},
    "mark": {"type": "text", "align": "left", "baseline": "middle", "dx": -73, "dy": 48, "fontSize": 26, "font": "DejaVu Sans", "color": "black"},
    "encoding": {"x": {"datum": 3.8, "type": "quantitative"}, "y": {"datum": -4, "type": "quantitative"}, "text": {"field": "t"}}}
  ]
 }
],
"resolve": {"scale": {"color": "independent"}, "legend": {"color": "independent"}},
"config": {
 "font": "DejaVu Sans",
 "view": {"stroke": "black", "strokeWidth": 1},
 "axis": {"domainColor": "black", "tickColor": "black", "tickSize": 6, "labelPadding": 5, "labelFontSize": 19, "labelColor": "black", "labelFont": "DejaVu Sans", "titleFont": "DejaVu Sans", "titleFontSize": 21.5, "titleFontWeight": "normal", "titleColor": "black", "gridColor": "#b0b0b0", "gridWidth": 1, "gridOpacity": 1, "labelFlush": false, "labelOverlap": false},
 "axisX": {"titlePadding": 6},
 "axisY": {"titlePadding": 4},
 "title": {"fontSize": 23, "fontWeight": "normal", "font": "DejaVu Sans", "color": "black", "offset": -3},
 "legend": {
  "title": null, "orient": "bottom-left", "offset": 7,
  "symbolType": "M-1,0H1M-0.16,0A0.16,0.16 0 1,0 0.16,0A0.16,0.16 0 1,0 -0.16,0Z",
  "symbolSize": 2704, "symbolStrokeWidth": 1.5, "clipHeight": 18,
  "labelFontSize": 16.5, "labelFont": "DejaVu Sans", "labelColor": "black",
  "rowPadding": 11, "padding": 8, "strokeColor": "black", "fillColor": "white", "cornerRadius": 6, "labelOffset": 17
 }
}
}
